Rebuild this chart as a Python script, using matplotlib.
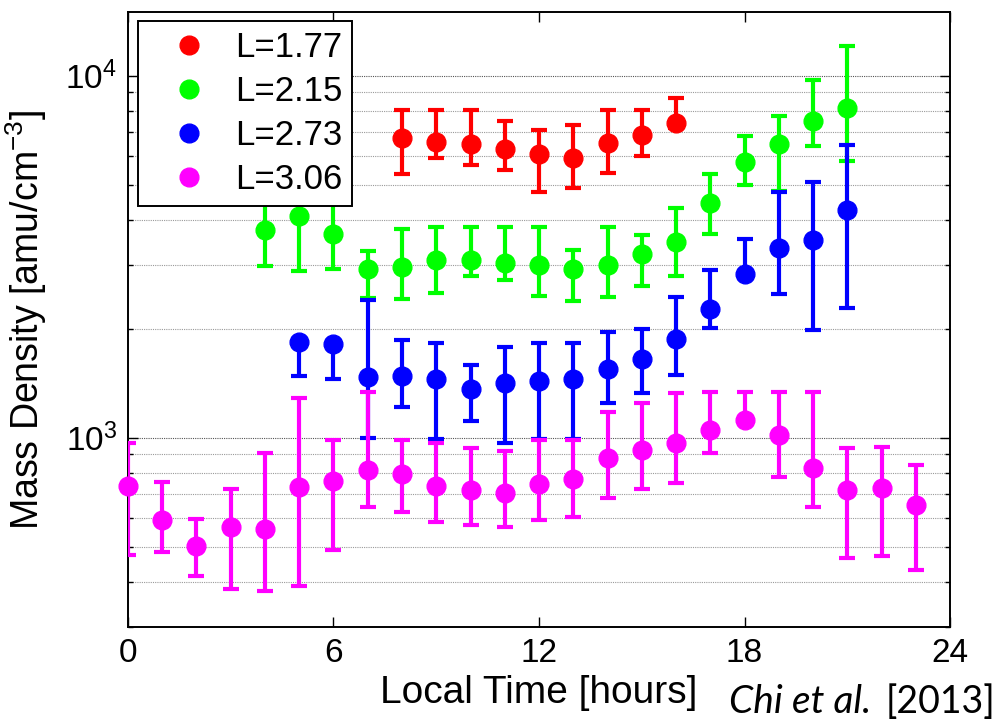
import matplotlib
matplotlib.use('Agg')
import matplotlib.pyplot as plt
import numpy as np
from matplotlib.lines import Line2D
from matplotlib.ticker import LogLocator, NullFormatter

plt.rcParams['font.family'] = ['Liberation Sans', 'DejaVu Sans']
plt.rcParams['mathtext.fontset'] = 'custom'
plt.rcParams['mathtext.rm'] = 'Liberation Sans'
plt.rcParams['mathtext.it'] = 'Liberation Sans:italic'

# L=1.77 (red)
lt_177 = [8, 9, 10, 11, 12, 13, 14, 15, 16]
rho_177 = [6730, 6580, 6470, 6280, 6090, 5920, 6540, 6860, 7400]
lo_177 = [5360, 5940, 5680, 5500, 4760, 4900, 5400, 6000, 7150]
hi_177 = [8050, 8050, 8050, 7520, 7100, 7300, 8050, 8050, 8680]

# L=2.15 (green)
lt_215 = [4, 5, 6, 7, 8, 9, 10, 11, 12, 13, 14, 15, 16, 17, 18, 19, 20, 21]
rho_215 = [3760, 4100, 3650, 2930, 2960, 3100, 3100, 3030, 3000, 2920, 3000,
           3220, 3480, 4440, 5760, 6470, 7480, 8140]
lo_215 = [2990, 2880, 2920, 2430, 2420, 2510, 2800, 2720, 2470, 2390, 2440,
          2620, 2790, 3660, 5000, 4790, 6380, 5830]
hi_215 = [4700, 5800, 4550, 3270, 3770, 3810, 3810, 3810, 3810, 3300, 3810,
          3630, 4320, 5360, 6830, 7740, 9750, 12050]

# L=2.73 (blue)
lt_273 = [5, 6, 7, 8, 9, 10, 11, 12, 13, 14, 15, 16, 17, 18, 19, 20, 21]
rho_273 = [1835, 1816, 1470, 1484, 1453, 1361, 1414, 1437, 1456, 1546, 1651,
           1875, 2270, 2840, 3345, 3520, 4260]
lo_273 = [1480, 1450, 1000, 1213, 990, 1114, 965, 990, 990, 1250, 1327,
          1490, 2007, 2760, 2490, 1985, 2280]
hi_273 = [1870, 1850, 2400, 1862, 1830, 1586, 1778, 1830, 1824, 1964, 1994,
          2440, 2910, 3540, 4770, 5090, 6430]

# L=3.06 (magenta)
lt_306 = list(range(24))
rho_306 = [737, 592, 502, 567, 558, 732, 761, 814, 792, 737, 717, 702, 745,
           767, 877, 925, 969, 1050, 1119, 1017, 823, 717, 725, 651]
lo_306 = [474, 484, 415, 383, 378, 390, 489, 642, 622, 586, 574, 565, 592,
          605, 680, 721, 748, 909, 1100, 780, 642, 466, 471, 431]
hi_306 = [965, 755, 595, 721, 909, 1290, 985, 1341, 985, 969, 935, 919, 985,
          985, 1180, 1250, 1332, 1341, 1341, 1341, 1341, 935, 944, 841]

series = [
    ('L=1.77', '#ff0000', lt_177, rho_177, lo_177, hi_177),
    ('L=2.15', '#00ff00', lt_215, rho_215, lo_215, hi_215),
    ('L=2.73', '#0000ff', lt_273, rho_273, lo_273, hi_273),
    ('L=3.06', '#ff00ff', lt_306, rho_306, lo_306, hi_306),
]

fig = plt.figure(figsize=(9.99, 7.24), dpi=100)
ax = fig.add_axes([0.1281, 0.134, 0.8229, 0.8494])

handles = []
for label, color, x, y, lo, hi in series:
    y = np.array(y, dtype=float)
    yerr = [y - np.array(lo), np.array(hi) - y]
    line, caps, bars = ax.errorbar(x, y, yerr=yerr, fmt='o', color=color,
                                   markersize=13.5, elinewidth=3, capsize=6,
                                   capthick=3, zorder=3)
    line.set_clip_on(False)
    handles.append(Line2D([], [], linestyle='none', marker='o', color=color,
                          markersize=13.5, label=label))

ax.set_yscale('log')
ax.set_xlim(0, 24)
ax.set_ylim(300, 15000)
ax.set_xticks([0, 6, 12, 18, 24])
ax.yaxis.set_major_locator(LogLocator(base=10))
ax.yaxis.set_minor_locator(LogLocator(base=10, subs=np.arange(2, 10)))
ax.yaxis.set_minor_formatter(NullFormatter())

ax.tick_params(axis='both', which='major', direction='in', top=True,
               right=True, length=7, width=1, labelsize=24, pad=8)
ax.tick_params(axis='y', which='minor', direction='in', right=True,
               length=3.5, width=1)
ax.tick_params(axis='x', which='minor', bottom=False, top=False)

ax.yaxis.grid(True, which='major', color='#555555', linestyle=(0, (1, 1)),
              linewidth=0.8)
ax.yaxis.grid(True, which='minor', color='#9a9a9a', linestyle=(0, (1, 1)),
              linewidth=0.8)
ax.set_axisbelow(True)
for sp in ax.spines.values():
    sp.set_linewidth(1.4)

ax.set_xlabel('Local Time [hours]', fontsize=28, labelpad=4)
ax.set_ylabel('Mass Density [amu/cm$^{-3}$]', fontsize=27, labelpad=12)

leg = ax.legend(handles=handles, loc='upper left',
                bbox_to_anchor=(0.012, 0.986), borderaxespad=0,
                fontsize=25, frameon=True, fancybox=False, framealpha=1,
                edgecolor='black', handlelength=2.36, handletextpad=0.14,
                labelspacing=0.32, borderpad=0.29)
leg.get_frame().set_linewidth(1.4)
leg.set_zorder(5)

fig.text(0.7295, 0.015, 'Chi et al.', fontsize=28, style='italic',
         family=['Lato', 'DejaVu Sans'], ha='left', va='baseline')
fig.text(0.996, 0.015, '[2013]', fontsize=27,
         family=['Lato', 'DejaVu Sans'], ha='right', va='baseline')

fig.savefig('out.png', dpi=100)
